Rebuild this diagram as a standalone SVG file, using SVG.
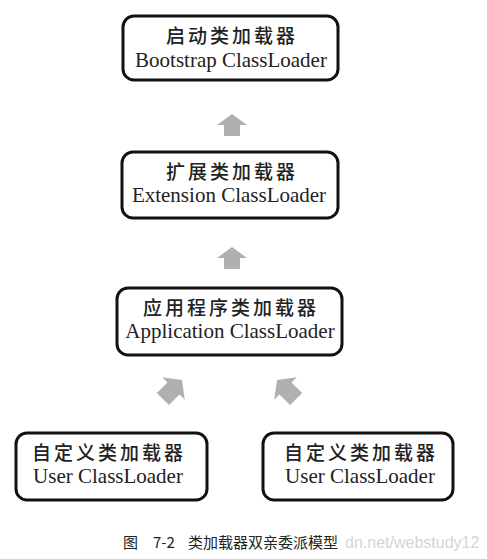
<svg xmlns="http://www.w3.org/2000/svg" width="487" height="559" viewBox="0 0 487 559">
<style>
.box{fill:#fff;stroke:#111;stroke-width:3}
.cn{font-family:"Noto Sans CJK SC","Noto Sans CJK JP",sans-serif;font-size:19px;font-weight:500;letter-spacing:3px;fill:#222;text-anchor:middle}
.en{font-family:"Liberation Serif",serif;font-size:21px;fill:#222;text-anchor:middle}
.arr{fill:#b0b0b0}
.cap{font-family:"Noto Sans CJK SC","Liberation Serif",serif;font-size:15px;fill:#222}
.wm{font-family:"Liberation Sans",sans-serif;font-size:16px;fill:#d4d4d4}
</style>
<defs>
<path id="up" d="M0,0 L15,11 L8,11 L8,22 L-8,22 L-8,11 L-15,11 Z"/>
<path id="upl" d="M0,0 L16,12 L8.5,12 L8.5,27 L-8.5,27 L-8.5,12 L-16,12 Z"/>
</defs>
<rect width="487" height="559" fill="#fff"/>
<g id="connectors">
<use href="#up" class="arr" transform="translate(232,114)"/>
<use href="#up" class="arr" transform="translate(232,247)"/>
<use href="#upl" class="arr" transform="translate(182,380) rotate(45)"/>
<use href="#upl" class="arr" transform="translate(277,380) rotate(-45)"/>
</g>
<g id="bootstrap">
<rect class="box" x="123" y="16" width="215" height="64" rx="11"/>
<text class="cn" x="232" y="43">启动类加载器</text>
<text class="en" x="231" y="67">Bootstrap ClassLoader</text>
</g>
<g id="extension">
<rect class="box" x="122" y="152" width="216" height="66" rx="11"/>
<text class="cn" x="232" y="179">扩展类加载器</text>
<text class="en" x="229" y="202">Extension ClassLoader</text>
</g>
<g id="application">
<rect class="box" x="117" y="288" width="225" height="67" rx="11"/>
<text class="cn" x="231" y="315">应用程序类加载器</text>
<text class="en" x="230" y="338">Application ClassLoader</text>
</g>
<g id="user1">
<rect class="box" x="16" y="433" width="191" height="67" rx="11"/>
<text class="cn" x="109" y="460">自定义类加载器</text>
<text class="en" x="108" y="483">User ClassLoader</text>
</g>
<g id="user2">
<rect class="box" x="263" y="433" width="190" height="67" rx="11"/>
<text class="cn" x="361" y="460">自定义类加载器</text>
<text class="en" x="360" y="483">User ClassLoader</text>
</g>
<text class="wm" x="345" y="548">dn.net/webstudy12</text>
<text class="cap" x="123" y="548">图</text>
<text class="cap" x="153" y="548" font-family="Liberation Serif" font-size="16">7-2</text>
<text class="cap" x="188" y="548">类加载器双亲委派模型</text>
</svg>
